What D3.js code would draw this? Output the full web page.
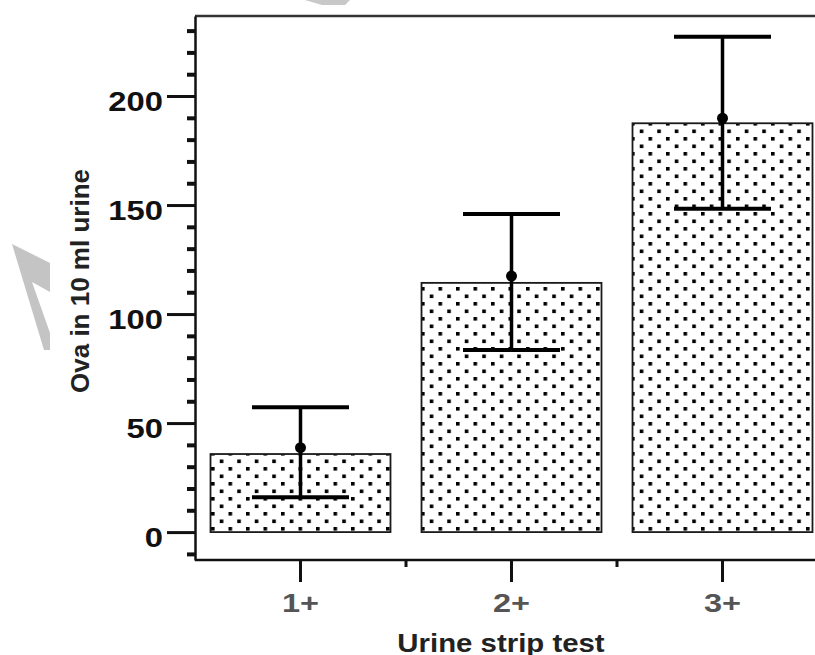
<!DOCTYPE html>
<html>
<head>
<meta charset="utf-8">
<script src="https://cdn.jsdelivr.net/npm/d3@7"></script>
<style>
  body { margin: 0; background: #fff; }
  svg { display: block; }
</style>
</head>
<body>
<div id="chart"></div>
<script>
// values
var categories = ["1+", "2+", "3+"];
var barValues = [35.8, 114.3, 187.5];
var pointValues = [38.7, 117.4, 189.8];
var upperValues = [57.3, 145.9, 227.2];
var lowerValues = [16.0, 83.5, 148.3];
var majorTicks = [0, 50, 100, 150, 200];
var minorTicks = [-10, 10, 20, 30, 40, 60, 70, 80, 90, 110, 120, 130, 140, 160, 170, 180, 190, 210, 220, 230];

var W = 815, H = 655;
var plotLeft = 195, plotTop = 16, plotBottom = 560, plotRight = 828;

var svg = d3.select("#chart").append("svg")
    .attr("width", W)
    .attr("height", H);

// watermark scraps
svg.append("path")
    .attr("d", "M12,244 L50,263 L50,292 L32,282 L50,333 L50,350 L44,350 Z")
    .attr("fill", "#c4c4c4");
svg.append("path")
    .attr("d", "M305,0 L350,0 L345,5 L322,5 Z")
    .attr("fill", "#c8c8c8");

var defs = svg.append("defs");
var pat = defs.append("pattern")
    .attr("id", "dots")
    .attr("patternUnits", "userSpaceOnUse")
    .attr("width", 17.5)
    .attr("height", 15)
    .attr("x", 1)
    .attr("y", 2);
pat.append("rect").attr("width", 17.5).attr("height", 15).attr("fill", "#fff");
pat.append("rect").attr("x", 0).attr("y", 0).attr("width", 3.6).attr("height", 3.6).attr("fill", "#000");
pat.append("rect").attr("x", 8.75).attr("y", 7.5).attr("width", 3.6).attr("height", 3.6).attr("fill", "#000");

var y = d3.scaleLinear()
    .domain([-12.8, 236.7])
    .range([plotBottom, plotTop]);

var x = d3.scaleBand()
    .domain(categories)
    .range([plotLeft, plotRight])
    .paddingInner(0.147)
    .paddingOuter(0.0735);

var band = d3.scaleBand()
    .domain(categories)
    .range([plotLeft, plotRight]);

// top frame line
svg.append("line")
    .attr("x1", plotLeft).attr("x2", W)
    .attr("y1", plotTop).attr("y2", plotTop)
    .attr("stroke", "#333")
    .attr("stroke-width", 2.5);

// bars
svg.selectAll("rect.bar")
    .data(categories)
    .enter().append("rect")
    .attr("class", "bar")
    .attr("x", function (d) { return x(d); })
    .attr("width", x.bandwidth())
    .attr("y", function (d, i) { return y(barValues[i]); })
    .attr("height", function (d, i) { return y(0) - y(barValues[i]); })
    .attr("fill", "url(#dots)")
    .attr("stroke", "#1a1a1a")
    .attr("stroke-width", 1.8);

// error bars
var capHalf = 48.5;
var eb = svg.selectAll("g.err")
    .data(categories)
    .enter().append("g")
    .attr("class", "err");

eb.append("line")
    .attr("x1", function (d) { return x(d) + x.bandwidth() / 2; })
    .attr("x2", function (d) { return x(d) + x.bandwidth() / 2; })
    .attr("y1", function (d, i) { return y(upperValues[i]); })
    .attr("y2", function (d, i) { return y(lowerValues[i]); })
    .attr("stroke", "#000")
    .attr("stroke-width", 3.5);

[upperValues, lowerValues].forEach(function (vals) {
    eb.append("line")
        .attr("x1", function (d) { return x(d) + x.bandwidth() / 2 - capHalf; })
        .attr("x2", function (d) { return x(d) + x.bandwidth() / 2 + capHalf; })
        .attr("y1", function (d, i) { return y(vals[i]); })
        .attr("y2", function (d, i) { return y(vals[i]); })
        .attr("stroke", "#000")
        .attr("stroke-width", 4);
});

eb.append("circle")
    .attr("cx", function (d) { return x(d) + x.bandwidth() / 2; })
    .attr("cy", function (d, i) { return y(pointValues[i]); })
    .attr("r", 5.5)
    .attr("fill", "#000");

// y axis
var sx = 1.17;
var yMajor = svg.append("g")
    .attr("transform", "translate(" + plotLeft + ",0)")
    .call(d3.axisLeft(y).tickValues(majorTicks).tickSize(28).tickSizeOuter(0));
yMajor.select(".domain").attr("stroke", "#111").attr("stroke-width", 2.5);
yMajor.selectAll(".tick line").attr("stroke", "#111").attr("stroke-width", 3);
yMajor.selectAll(".tick text")
    .attr("x", -32 / sx)
    .attr("dy", "0.5em")
    .attr("transform", "scale(" + sx + ",1)")
    .attr("font-family", "Liberation Sans, Arial, sans-serif")
    .attr("font-weight", "bold")
    .attr("font-size", 28)
    .attr("fill", "#111");

var yMinor = svg.append("g")
    .attr("transform", "translate(" + plotLeft + ",0)")
    .call(d3.axisLeft(y).tickValues(minorTicks).tickSize(8).tickSizeOuter(0).tickFormat(""));
yMinor.select(".domain").remove();
yMinor.selectAll(".tick line").attr("stroke", "#111").attr("stroke-width", 4);

// x axis
var xAxis = svg.append("g")
    .attr("transform", "translate(0," + plotBottom + ")")
    .call(d3.axisBottom(x).tickSize(22).tickSizeOuter(0));
xAxis.select(".domain").attr("d", "M" + plotLeft + ",0H" + W).attr("stroke", "#111").attr("stroke-width", 2.5);
xAxis.selectAll(".tick line").attr("stroke", "#111").attr("stroke-width", 3);
xAxis.selectAll(".tick text")
    .attr("y", 52)
    .attr("dy", 0)
    .attr("transform", "scale(1.3,1)")
    .attr("font-family", "Liberation Sans, Arial, sans-serif")
    .attr("font-weight", "bold")
    .attr("font-size", 25)
    .attr("fill", "#555");

// minor x ticks at category boundaries
svg.selectAll("line.xminor")
    .data(categories.slice(1))
    .enter().append("line")
    .attr("class", "xminor")
    .attr("x1", function (d) { return band(d); })
    .attr("x2", function (d) { return band(d); })
    .attr("y1", plotBottom)
    .attr("y2", plotBottom + 7)
    .attr("stroke", "#111")
    .attr("stroke-width", 3);

// axis titles
svg.append("text")
    .attr("transform", "translate(501,652) scale(1.13,1)")
    .attr("text-anchor", "middle")
    .attr("font-family", "Liberation Sans, Arial, sans-serif")
    .attr("font-weight", "bold")
    .attr("font-size", 26)
    .attr("fill", "#222")
    .text("Urine strip test");

svg.append("text")
    .attr("transform", "translate(89,281) rotate(-90)")
    .attr("text-anchor", "middle")
    .attr("font-family", "Liberation Sans, Arial, sans-serif")
    .attr("font-weight", "bold")
    .attr("font-size", 26)
    .attr("fill", "#222")
    .text("Ova in 10 ml urine");
</script>
</body>
</html>
